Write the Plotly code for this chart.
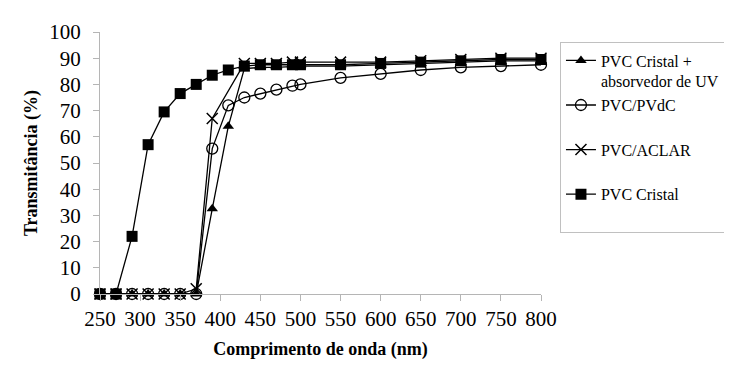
import plotly.graph_objects as go

# Wavelengths (nm)
wl_full = [250, 270, 290, 310, 330, 350, 370, 390, 410, 430, 450, 470, 490, 500,
           550, 600, 650, 700, 750, 800]
wl_aclar = [250, 270, 290, 310, 330, 350, 370, 390, 430, 450, 470, 490, 500,
            550, 600, 650, 700, 750, 800]

# Transmittance (%)
pvc_uv = [0, 0, 0, 0, 0, 0, 0, 32.5, 64, 86, 86.5, 86.5, 87, 87,
          87, 87.5, 88, 88.5, 89, 89]
pvc_pvdc = [0, 0, 0, 0, 0, 0, 0, 55.5, 72, 75, 76.5, 78, 79.5, 80,
            82.5, 84, 85.5, 86.5, 87, 87.5]
pvc_aclar = [0, 0, 0, 0, 0, 0, 2, 67, 88, 88, 88, 88.5, 88.5,
             88.5, 88.5, 89, 89.5, 90, 90]
pvc_cristal = [0, 0, 22, 57, 69.5, 76.5, 80, 83.5, 85.5, 87, 87.5, 87.5, 87.5, 87.5,
               87.5, 88, 88.5, 89, 89.5, 89.5]

names = ["PVC Cristal +<br>absorvedor de UV", "PVC/PVdC<br>\u00a0",
         "PVC/ACLAR<br>\u00a0", "PVC Cristal<br>\u00a0"]
x_ticks = [250, 300, 350, 400, 450, 500, 550, 600, 650, 700, 750, 800]
y_ticks = [0, 10, 20, 30, 40, 50, 60, 70, 80, 90, 100]

FONT = "Liberation Serif"

fig = go.Figure()
series = [
    (wl_full, pvc_uv, names[0], dict(symbol="triangle-up", size=10, color="black")),
    (wl_full, pvc_pvdc, names[1], dict(symbol="circle-open", size=11, color="black",
                                       line=dict(width=1.3, color="black"))),
    (wl_aclar, pvc_aclar, names[2], dict(symbol="x-thin-open", size=11, color="black",
                                         line=dict(width=1.5, color="black"))),
    (wl_full, pvc_cristal, names[3], dict(symbol="square", size=11, color="black")),
]
for i, (xs, ys, nm, mk) in enumerate(series):
    fig.add_trace(go.Scatter(
        x=xs, y=ys, name=nm, mode="lines+markers",
        line=dict(color="black", width=1.3),
        marker=mk, cliponaxis=False, legendgroup=str(i)))

fig.update_layout(
    width=732, height=365,
    margin=dict(l=92, r=199, t=24, b=79),
    paper_bgcolor="white", plot_bgcolor="white",
    font=dict(family=FONT, color="black", size=21),
    showlegend=True,
    legend=dict(
        x=1.043, y=0.96, xanchor="left", yanchor="top",
        bordercolor="#c0c0c0", borderwidth=1,
        font=dict(family=FONT, size=16, color="black"),
        valign="top", tracegroupgap=0, traceorder="grouped",
        itemwidth=30,
    ),
    xaxis=dict(
        range=[250, 800], tickmode="array", tickvals=x_ticks,
        ticktext=[str(v) for v in x_ticks],
        showgrid=False, zeroline=False, showline=True, linecolor="#b5b5b5",
        linewidth=1, ticks="outside", ticklen=6, tickcolor="#b5b5b5",
        tickfont=dict(family=FONT, size=21, color="black"),
        title=dict(text="<b>Comprimento de onda (nm)</b>",
                   font=dict(family=FONT, size=18, color="black"), standoff=12),
    ),
    yaxis=dict(
        range=[0, 100], tickmode="array", tickvals=y_ticks,
        showgrid=False, zeroline=False, showline=True, linecolor="#b5b5b5",
        linewidth=1, ticks="outside", ticklen=6, tickcolor="#b5b5b5",
        ticklabelstandoff=8,
        tickfont=dict(family=FONT, size=21, color="black"),
        title=dict(text="<b>Transmitância (%)</b>",
                   font=dict(family=FONT, size=18, color="black"), standoff=6),
    ),
)

fig.write_html("out.html")
